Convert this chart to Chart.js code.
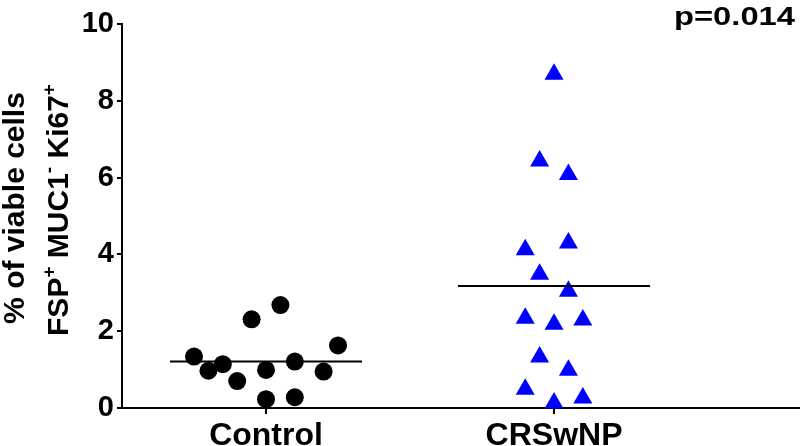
<!DOCTYPE html>
<html><head><meta charset="utf-8">
<script src="https://cdn.jsdelivr.net/npm/chart.js@4"></script>
<style>html,body{margin:0;padding:0;background:#fff}#wrap{width:800px;height:446px}</style>
</head><body><div id="wrap"><canvas id="c" width="800" height="446"></canvas></div>
<script>
const categories = ['Control', 'CRSwNP'];
const controlValues = [1.34, 0.97, 1.14, 0.70, 2.31, 0.99, 0.23, 2.68, 1.21, 0.28, 0.95, 1.63];
const controlJitter = [-0.25, -0.2, -0.15, -0.1, -0.05, 0, 0, 0.05, 0.1, 0.1, 0.2, 0.25];
const crswnpValues = [8.69, 6.43, 6.08, 4.30, 4.12, 3.48, 3.04, 2.34, 2.18, 2.29, 1.33, 0.98, 0.49, 0.26, 0.13];
const crswnpJitter = [0, -0.05, 0.05, 0.05, -0.1, -0.05, 0.05, -0.1, 0, 0.1, -0.05, 0.05, -0.1, 0.1, 0];
const medians = [1.21, 3.18];
const yTicks = [0, 2, 4, 6, 8, 10];
const pValueText = 'p=0.014';
const yTitleLine1 = [['% of viable cells', false]];
const yTitleLine2 = [['FSP', false], ['+', true], [' MUC1', false], ['-', true], [' Ki67', false], ['+', true]];

const FONT = '"Liberation Sans", Arial, Helvetica, sans-serif';
const medianHalf = 1 / 3;

function pts(vals, jit, pos) { return vals.map((v, i) => ({ x: pos + jit[i], y: v })); }

const overlay = {
  id: 'overlay',
  afterDraw(chart) {
    const ctx = chart.ctx;
    ctx.save();
    ctx.fillStyle = '#000';
    ctx.font = 'bold 26px ' + FONT;
    ctx.textAlign = 'left';
    ctx.textBaseline = 'alphabetic';
    const w = ctx.measureText(pValueText).width;
    const targetW = 121;
    ctx.translate(674, 25);
    ctx.scale(targetW / w, 1);
    ctx.fillText(pValueText, 0, 0);
    ctx.restore();

    function drawLine(segs, bx, cy) {
      const big = 'bold 30px ' + FONT, small = 'bold 19px ' + FONT;
      ctx.save();
      ctx.translate(bx, cy);
      ctx.rotate(-Math.PI / 2);
      ctx.fillStyle = '#000';
      ctx.textBaseline = 'alphabetic';
      ctx.textAlign = 'left';
      let total = 0;
      segs.forEach(([t, sup]) => { ctx.font = sup ? small : big; total += ctx.measureText(t).width; });
      let x = -total / 2;
      segs.forEach(([t, sup]) => {
        ctx.font = sup ? small : big;
        ctx.fillText(t, x, sup ? -13 : 0);
        x += ctx.measureText(t).width;
      });
      ctx.restore();
    }
    drawLine(yTitleLine1, 24, 208);
    drawLine(yTitleLine2, 68, 210);
  }
};

new Chart(document.getElementById('c'), {
  type: 'scatter',
  data: {
    datasets: [
      { label: 'Control', data: pts(controlValues, controlJitter, 1), pointStyle: 'circle', pointRadius: 9,
        backgroundColor: '#000', borderColor: '#000', borderWidth: 0, order: 2, clip: false },
      { label: 'CRSwNP', data: pts(crswnpValues, crswnpJitter, 2), pointStyle: 'triangle', pointRadius: 11,
        backgroundColor: '#0000ff', borderColor: '#0000ff', borderWidth: 0, order: 2, clip: false },
      ...medians.map((m, i) => ({
        type: 'line', label: 'median ' + categories[i],
        data: [{ x: i + 1 - medianHalf, y: m }, { x: i + 1 + medianHalf, y: m }],
        borderColor: '#000', borderWidth: 2, pointRadius: 0, showLine: true, order: 0, clip: false
      }))
    ]
  },
  options: {
    responsive: false,
    animation: false,
    devicePixelRatio: 1,
    events: [],
    layout: { autoPadding: false, padding: { top: 24, right: 0, left: 0, bottom: 0 } },
    plugins: { legend: { display: false }, tooltip: { enabled: false } },
    scales: {
      x: {
        type: 'linear', min: 0.5, max: 2.854,
        afterBuildTicks(s) { s.ticks = categories.map((c, i) => ({ value: i + 1 })); },
        afterFit(s) { s.height = 38; s.paddingRight = 0; s.paddingLeft = 0; },
        ticks: { callback: (v) => categories[Math.round(v) - 1] || '', color: '#000', padding: 3,
                 font: { family: FONT, size: 32, weight: 'bold' }, maxRotation: 0, autoSkip: false },
        grid: { drawOnChartArea: false, drawTicks: true, tickLength: 6, color: '#000', lineWidth: 2 },
        border: { display: true, color: '#000', width: 2 }
      },
      y: {
        min: 0, max: 10,
        afterBuildTicks(s) { s.ticks = yTicks.map(v => ({ value: v })); },
        afterFit(s) { s.width = 122; },
        ticks: { color: '#000', padding: 3, font: { family: FONT, size: 29, weight: 'bold' } },
        grid: { drawOnChartArea: false, drawTicks: true, tickLength: 5, color: '#000', lineWidth: 2 },
        border: { display: true, color: '#000', width: 2 }
      }
    }
  },
  plugins: [overlay]
});
</script></body></html>
